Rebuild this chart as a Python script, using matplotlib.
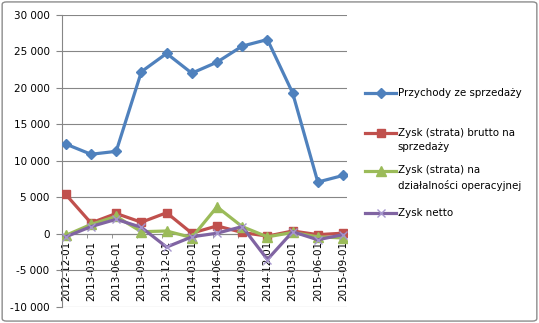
import matplotlib.pyplot as plt
from matplotlib.lines import Line2D
from matplotlib.patches import FancyBboxPatch
from matplotlib.ticker import FuncFormatter, FixedLocator

plt.rcParams["font.family"] = ["DejaVu Sans"]

# dane kwartalne (tys. zł)
dates = ["2012-12-01", "2013-03-01", "2013-06-01", "2013-09-01", "2013-12-01",
         "2014-03-01", "2014-06-01", "2014-09-01", "2014-12-01", "2015-03-01",
         "2015-06-01", "2015-09-01"]
przychody = [12300, 10900, 11300, 22200, 24700, 22000, 23500, 25700, 26600, 19300, 7100, 8000]
zysk_brutto = [5400, 1500, 2800, 1600, 2900, 100, 1100, 200, -300, 400, -100, 100]
zysk_operacyjny = [-200, 1300, 2400, 300, 400, -500, 3700, 1000, -400, 200, -400, -550]
zysk_netto = [-400, 1000, 2000, 900, -1800, -400, 100, 1000, -3500, 300, -800, -100]

labels = ["Przychody ze sprzedaży",
          "Zysk (strata) brutto na\nsprzedaży",
          "Zysk (strata) na\ndziałalności operacyjnej",
          "Zysk netto"]

styles = [
    dict(color="#4F81BD", marker="D", markersize=5.5),
    dict(color="#C0504D", marker="s", markersize=5.8),
    dict(color="#9BBB59", marker="^", markersize=6.5),
    dict(color="#8064A2", marker="x", markersize=5.5, markeredgewidth=1.0,
         markeredgecolor="#A595CC"),
]

W, H = 539, 323
fig = plt.figure(figsize=(W / 100, H / 100), dpi=100)

# ramka wykresu
fig.patches.append(FancyBboxPatch((0.004, 0.006), 0.992, 0.988,
                                  boxstyle="round,pad=0,rounding_size=0.008",
                                  transform=fig.transFigure, fill=False,
                                  edgecolor="#8c8c8c", linewidth=1.0))

left, right, top, bottom = 61.5, 347.3, 14.7, 307.0
ax = fig.add_axes([left / W, (H - bottom) / H, (right - left) / W, (bottom - top) / H])

# oś kategorii na wysokości zera (przed ustawieniem etykiet, bo resetuje ticki)
for s in ["top", "right"]:
    ax.spines[s].set_visible(False)
ax.spines["bottom"].set_position(("data", 0))
ax.spines["bottom"].set_color("#868686")
ax.spines["left"].set_color("#868686")

x = list(range(len(dates)))
series = [przychody, zysk_brutto, zysk_operacyjny, zysk_netto]
for vals, st in zip(series, styles):
    ax.plot(x, vals, linewidth=2.3, solid_joinstyle="round", zorder=3, **st)

ax.set_ylim(-10000, 30000)
ax.set_yticks(range(-10000, 30001, 5000))
ax.yaxis.set_major_formatter(FuncFormatter(lambda v, p: f"{int(v):,}".replace(",", " ")))
ax.grid(axis="y", color="#868686", linewidth=0.8)
ax.set_axisbelow(True)

off = 0.17
ax.set_xlim(-off, len(dates) - 1 + off)
ax.set_xticks(x)
ax.set_xticklabels(dates, rotation=90, fontsize=7.5, va="top")
ax.xaxis.set_minor_locator(FixedLocator([i - off for i in range(1, len(dates))]))
ax.tick_params(axis="x", which="major", length=0, pad=5.2)
ax.tick_params(axis="x", which="minor", length=3, color="#868686", direction="out")
ax.tick_params(axis="y", length=4.3, color="#868686", pad=4.3, labelsize=7.5)

# legenda
rows = [93.3, 133.3, 170.7, 213.3]
for lab, st, yp in zip(labels, styles, rows):
    yf = (H - yp) / H
    fig.add_artist(Line2D([365 / W, 380.5 / W, 396 / W], [yf, yf, yf], linewidth=2.3,
                          transform=fig.transFigure, markevery=[1], **st))
    fig.text(397.5 / W, (H - yp + 5.5) / H, lab, fontsize=7.4, va="top",
             ha="left", linespacing=1.55)

fig.savefig("out.png", dpi=100)
